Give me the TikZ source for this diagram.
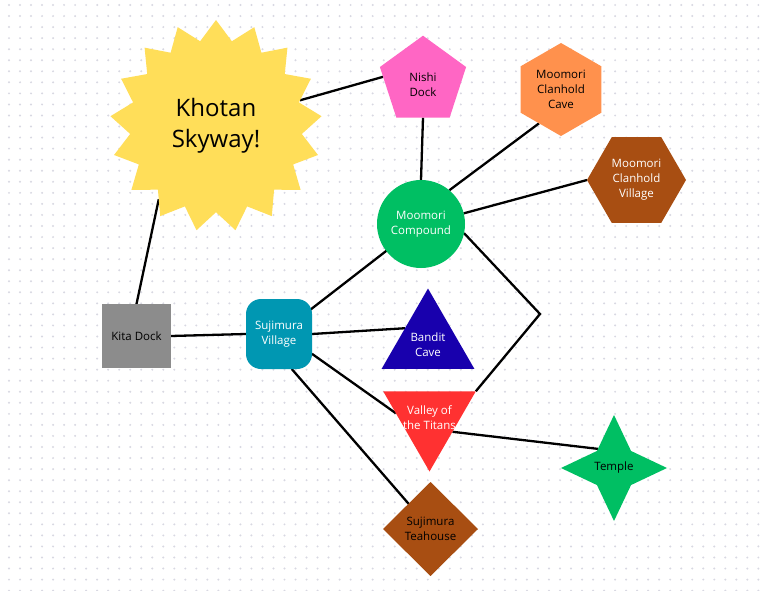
\documentclass[tikz,border=0pt]{standalone}
\usepackage{fontspec}
\setmainfont{Open Sans}
\usepackage{xcolor}
\usepackage{tikz}
\usetikzlibrary{arrows}
\usetikzlibrary{shapes.geometric}
\definecolor{sunyellow}{HTML}{FFDE59}
\definecolor{dockpink}{HTML}{FF66C4}
\definecolor{caveorange}{HTML}{FF914D}
\definecolor{clanbrown}{HTML}{A84E12}
\definecolor{moogreen}{HTML}{00BF63}
\definecolor{dockgray}{HTML}{8C8C8C}
\definecolor{sujiteal}{HTML}{0097B2}
\definecolor{banditblue}{HTML}{1800AD}
\definecolor{titanred}{HTML}{FF3131}
\definecolor{griddot}{HTML}{D8D8E2}
\pgfdeclarelayer{dots}
\pgfdeclarelayer{edges}
\pgfsetlayers{dots,edges,main}
\newcommand{\dropped}[2]{\raisebox{#1}[0pt][0pt]{\begin{tabular}{@{}c@{}}#2\end{tabular}}}
\tikzset{
    place/.style = {align=center, inner sep=0pt, outer sep=0pt, text centered, font=\fontsize{11.5}{15}\selectfont},
    sky_node/.style = {place, star, star points=17, star point ratio=1.23, minimum size=212pt, fill=sunyellow, font=\fontsize{24}{31}\selectfont},
    pent_node/.style = {place, regular polygon, regular polygon sides=5, minimum size=90.6pt, fill=dockpink},
    hex_node/.style = {place, regular polygon, regular polygon sides=6},
    tri_node/.style = {place, regular polygon, regular polygon sides=3, minimum size=107pt, inner sep=-30pt},
    round_node/.style = {place, circle, minimum size=88pt, fill=moogreen, text=white},
    box_node/.style = {place, rectangle, minimum width=69pt, minimum height=64pt, fill=dockgray},
    village_node/.style = {place, rectangle, rounded corners=15pt, minimum width=66pt, minimum height=70pt, fill=sujiteal, text=white},
    gem_node/.style = {place, diamond, minimum width=95pt, minimum height=94pt, fill=clanbrown},
    spark_node/.style = {place, star, star points=4, star point ratio=2.2, minimum size=106pt, inner sep=-30pt, fill=moogreen}
}

\begin{document}
\begin{tikzpicture}
    [-, x=1pt, y=-1pt,
    link/.style={draw=black, line width=2.3pt}]

    \useasboundingbox (0,0) rectangle (763,591);
    \begin{pgfonlayer}{dots}
        \fill [white] (0,0) rectangle (763,591);
        \foreach \i in {0,...,68}
            \foreach \j in {0,...,53}
                \fill [griddot] (9+11.02*\i, 5+11.05*\j) circle (1.1pt);
    \end{pgfonlayer}

    \node [sky_node] (sky) at (216,126) {Khotan\\Skyway!};
    \node [pent_node] (nishi) at (423,81) {\dropped{-8pt}{Nishi\\Dock}};
    \node [hex_node, minimum size=93pt, shape border rotate=30, fill=caveorange] (cave) at (561,89.5) {Moomori\\Clanhold\\Cave};
    \node [hex_node, minimum size=99pt, fill=clanbrown, text=white] (clanvillage) at (636.5,180) {Moomori\\Clanhold\\Village};
    \node [round_node] (compound) at (421,224) {Moomori\\Compound};
    \node [box_node] (kita) at (136.5,336) {Kita Dock};
    \node [village_node] (sujivillage) at (279,334) {Sujimura\\Village};
    \node [tri_node, fill=banditblue, text=white] (bandit) at (428,342) {\dropped{-6.5pt}{Bandit\\Cave}};
    \node [tri_node, shape border rotate=180, fill=titanred, text=white] (valley) at (429.5,418) {Valley of\\the Titans};
    \node [spark_node] (temple) at (614,468) {Temple};
    \node [gem_node] (teahouse) at (430.5,529) {Sujimura\\Teahouse};
    \coordinate (bend) at (540,314);

    \begin{pgfonlayer}{edges}
        \draw [link] (sky.17) -- (nishi.174);
        \draw [link] (sky.232) -- (kita.north);
        \draw [link] (nishi.south) -- (compound.north);
        \draw [link] (compound.50) -- (cave.237);
        \draw [link] (compound.14) -- (clanvillage.180);
        \draw [link] (compound.center) -- (sujivillage.center);
        \draw [link] (compound.348) -- (bend) -- (valley.30);
        \draw [link] (kita.east) -- (sujivillage.west);
        \draw [link] (sujivillage.east) -- (bandit.149);
        \draw [link] (sujivillage.329) -- (valley.172);
        \draw [link] (sujivillage.290) -- (teahouse.center);
        \draw [link] (valley.329) -- (temple.130);
    \end{pgfonlayer}
\end{tikzpicture}
\end{document}
